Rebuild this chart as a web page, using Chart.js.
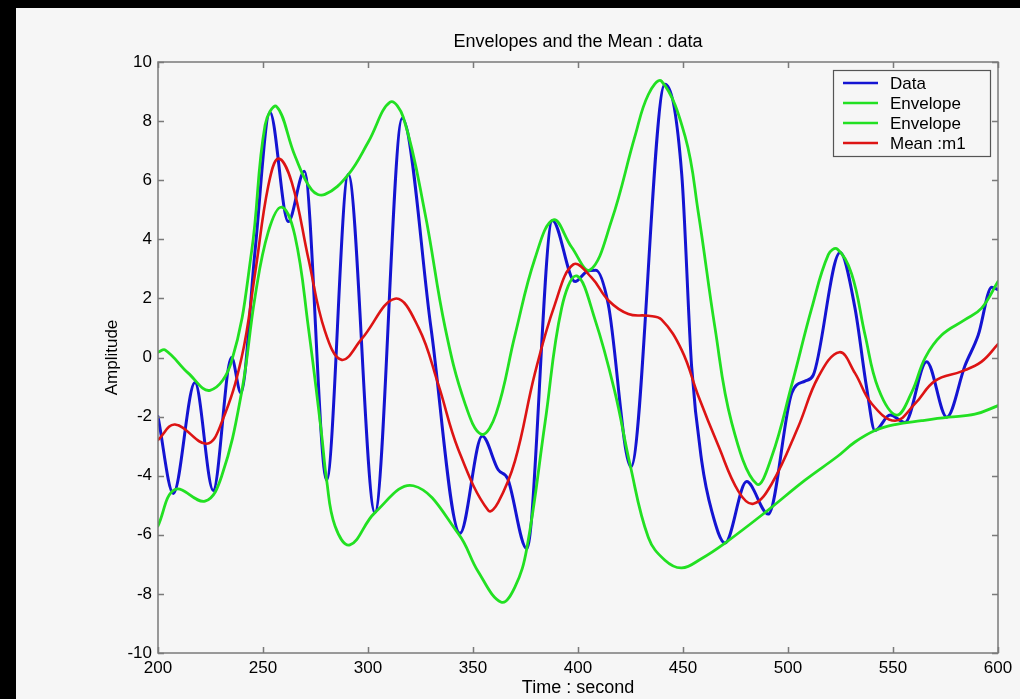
<!DOCTYPE html>
<html>
<head>
<meta charset="utf-8">
<title>Envelopes and the Mean : data</title>
<script src="https://cdn.jsdelivr.net/npm/chart.js@4.4.1/dist/chart.umd.min.js"></script>
<style>
  html, body { margin: 0; padding: 0; background: #000; }
  canvas { display: block; }
</style>
</head>
<body>
<canvas id="c" width="1020" height="699"></canvas>
<script>
// Signal samples (time in seconds, amplitude)
const dataT = [200, 207.3, 217.6, 226.3, 235, 239.5, 246.2, 253.3, 262, 269.7, 280.3, 290.6, 303.3, 316.3, 330, 343.8,
  354.4, 362, 366.5, 375.6, 387.8, 398.6, 404, 408.5, 414.4, 425.2, 441.4, 449.4, 454.1, 458.9, 463.7, 470,
  480.3, 490.6, 501.8, 508.1, 512, 524.8, 531.9, 537.5, 541.4, 548.6, 555.7, 566, 575.6, 584.3, 590.6, 597, 600];
const dataV = [-2.0, -4.6, -0.85, -4.5, 0.0, -1.2, 3.6, 8.3, 4.6, 6.3, -4.15, 6.2, -5.25, 8.1, 1.0, -5.95,
  -2.66, -3.8, -4.1, -6.47, 4.64, 2.57, 2.9, 2.95, 1.8, -3.7, 9.25, 6.2, -0.3, -3.5, -5.2, -6.28,
  -4.2, -5.3, -1.2, -0.8, -0.6, 3.55, 1.67, -1.05, -2.47, -1.95, -2.2, -0.14, -2.02, -0.27, 0.76, 2.38, 2.3];

// Upper envelope through the local maxima
const upperT = [200, 203.5, 214.4, 224.8, 235, 244.6, 251, 256.5, 265.2, 273.2, 279.5, 290.6, 300.2, 310.5, 316.8,
  327.1, 336.7, 346.2, 354.1, 361, 370, 379.5, 388.3, 397, 405.7, 416, 427.1, 433.5, 439.8, 451, 457.3, 465.2,
  473.2, 485.1, 492.2, 501.8, 511.3, 519.2, 523.5, 530.3, 536.7, 543, 551.7, 558.9, 565.3, 573.2, 584.3, 592.2, 600];
const upperV = [0.18, 0.25, -0.53, -1.11, -0.14, 3.6, 7.87, 8.49, 6.83, 5.67, 5.52, 6.19, 7.3, 8.64, 8.13,
  4.9, 1.02, -1.56, -2.6, -1.9, 0.76, 3.35, 4.66, 3.73, 2.96, 4.64, 7.48, 8.9, 9.35, 7.48, 4.9, 1.02,
  -2.21, -4.28, -3.37, -0.92, 1.67, 3.48, 3.67, 2.83, 0.76, -1.05, -1.95, -1.18, -0.01, 0.76, 1.28, 1.67, 2.57];

// Lower envelope through the local minima
const lowerT = [200, 208.1, 222.4, 230.3, 239.8, 246.2, 252.5, 258.9, 265.2, 271.6, 277.9, 280.3, 284.3, 291.4,
  303.3, 321.6, 343, 352.5, 363.5, 370, 375.6, 384.3, 392.2, 399.4, 408.1, 417.6, 424.8, 433.5, 441.4, 449.4,
  458.9, 470, 489, 508.1, 523.5, 531.9, 541.4, 551, 563.6, 576.3, 589, 600];
const lowerV = [-5.7, -4.47, -4.86, -4.02, -1.18, 2.05, 4.25, 5.09, 4.12, 1.02, -2.6, -4.15, -5.7, -6.34,
  -5.25, -4.34, -5.96, -7.25, -8.28, -7.76, -6.47, -2.21, 1.67, 2.76, 1.28, -1.18, -3.63, -6.09, -6.86, -7.12,
  -6.8, -6.28, -5.25, -4.15, -3.35, -2.86, -2.47, -2.27, -2.14, -2.02, -1.92, -1.63];

// Mean of the two envelopes (m1)
const meanT = [200, 208.1, 223.2, 230.3, 239.8, 246.2, 252.5, 257.3, 263.7, 271.6, 279.5, 287.5, 297, 312.9, 324,
  333.5, 343, 357.3, 362, 370, 379.5, 389, 397.8, 406.5, 414.5, 424, 433.5, 439.8, 449.4, 457.3, 466.8, 476.4,
  483.5, 492.2, 504.9, 514.4, 524.5, 531.9, 539.8, 551, 560.5, 570, 582.7, 592.2, 600];
const meanV = [-2.79, -2.27, -2.92, -2.2, -0.01, 2.83, 5.8, 6.73, 5.93, 3.35, 0.89, -0.08, 0.63, 1.99, 1.02,
  -0.92, -3.11, -5.18, -4.9, -3.5, -0.53, 1.8, 3.15, 2.7, 1.93, 1.47, 1.41, 1.28, 0.25, -1.3, -2.98, -4.53,
  -4.95, -4.28, -2.34, -0.66, 0.18, -0.53, -1.56, -2.14, -1.56, -0.79, -0.47, -0.14, 0.45];

// Axis ticks
const xTicks = [200, 250, 300, 350, 400, 450, 500, 550, 600];
const yTicks = [-10, -8, -6, -4, -2, 0, 2, 4, 6, 8, 10];

const FONT = "'Liberation Sans', Arial, Helvetica, sans-serif";
const pts = (t, v) => t.map((x, i) => ({ x, y: v[i] }));

// Box frame, inward tick marks and an in-plot legend
const framePlugin = {
  id: 'frame',
  beforeDraw(chart) {
    const ctx = chart.ctx;
    ctx.save();
    ctx.fillStyle = '#f6f6f6';
    ctx.fillRect(0, 0, chart.width, chart.height);
    ctx.fillStyle = '#000';
    ctx.fillRect(0, 0, chart.width, 8);
    ctx.fillRect(0, 0, 16, chart.height);
    ctx.restore();
  },
  afterDatasetsDraw(chart) {
    const { ctx, chartArea: a, scales: { x, y } } = chart;
    ctx.save();
    ctx.strokeStyle = '#7a7a7a';
    ctx.lineWidth = 1.5;
    ctx.strokeRect(a.left, a.top, a.right - a.left, a.bottom - a.top);
    const tl = 6;
    ctx.beginPath();
    xTicks.forEach(v => {
      const px = Math.round(x.getPixelForValue(v)) + 0.5;
      ctx.moveTo(px, a.bottom); ctx.lineTo(px, a.bottom - tl);
      ctx.moveTo(px, a.top); ctx.lineTo(px, a.top + tl);
    });
    yTicks.forEach(v => {
      const py = Math.round(y.getPixelForValue(v)) + 0.5;
      ctx.moveTo(a.left, py); ctx.lineTo(a.left + tl, py);
      ctx.moveTo(a.right, py); ctx.lineTo(a.right - tl, py);
    });
    ctx.stroke();

    // legend
    const w = 157, h = 86;
    const lx = a.right - 8 - w, ly = a.top + 8;
    ctx.fillStyle = '#f6f6f6';
    ctx.fillRect(lx, ly, w, h);
    ctx.strokeStyle = '#555';
    ctx.lineWidth = 1.2;
    ctx.strokeRect(lx + 0.5, ly + 0.5, w, h);
    ctx.font = '17px ' + FONT;
    ctx.textBaseline = 'middle';
    ctx.fillStyle = '#000';
    chart.data.datasets.forEach((ds, i) => {
      const ry = ly + 13 + i * 20;
      ctx.strokeStyle = ds.borderColor;
      ctx.lineWidth = 2.5;
      ctx.beginPath();
      ctx.moveTo(lx + 10, ry); ctx.lineTo(lx + 45, ry);
      ctx.stroke();
      ctx.fillText(ds.label, lx + 57, ry + 1);
    });
    ctx.restore();
  }
};

const sharpLine = { pointRadius: 0, fill: false, cubicInterpolationMode: 'monotone', borderJoinStyle: 'round', borderCapStyle: 'round' };
const smoothLine = { pointRadius: 0, fill: false, tension: 0.4, borderJoinStyle: 'round', borderCapStyle: 'round' };

new Chart(document.getElementById('c'), {
  type: 'line',
  data: {
    datasets: [
      Object.assign({ label: 'Data', data: pts(dataT, dataV), borderColor: '#1414d2', borderWidth: 3, order: 4 }, sharpLine),
      Object.assign({ label: 'Envelope', data: pts(upperT, upperV), borderColor: '#22e022', borderWidth: 2.8, order: 3 }, smoothLine),
      Object.assign({ label: 'Envelope', data: pts(lowerT, lowerV), borderColor: '#22e022', borderWidth: 2.8, order: 2 }, smoothLine),
      Object.assign({ label: 'Mean :m1', data: pts(meanT, meanV), borderColor: '#dd1414', borderWidth: 2.6, order: 1 }, smoothLine)
    ]
  },
  options: {
    responsive: false,
    animation: false,
    devicePixelRatio: 1,
    layout: { padding: { left: 0, right: 22, top: 0, bottom: 0 } },
    plugins: {
      legend: { display: false },
      tooltip: { enabled: false },
      title: {
        display: true,
        text: 'Envelopes and the Mean : data',
        color: '#000',
        fullSize: false,
        font: { family: FONT, size: 18, weight: 'normal' },
        padding: { top: 31, bottom: 9.4 }
      }
    },
    scales: {
      x: {
        type: 'linear',
        min: 200, max: 600,
        afterBuildTicks: s => { s.ticks = xTicks.map(v => ({ value: v })); },
        afterFit: s => { s.height = 46; },
        grid: { display: false, drawTicks: false },
        border: { display: false },
        ticks: { color: '#000', font: { family: FONT, size: 17 }, padding: 5, maxRotation: 0, autoSkip: false },
        title: { display: true, text: 'Time : second', color: '#000', font: { family: FONT, size: 18 }, padding: { top: 0, bottom: 0 } }
      },
      y: {
        min: -10, max: 10,
        afterBuildTicks: s => { s.ticks = yTicks.map(v => ({ value: v })); },
        afterFit: s => { s.width = 158; },
        grid: { display: false, drawTicks: false },
        border: { display: false },
        ticks: { color: '#000', font: { family: FONT, size: 17 }, padding: 6 },
        title: { display: true, text: 'Amplitude', color: '#000', font: { family: FONT, size: 17 }, padding: { top: 102, bottom: 0 } }
      }
    }
  },
  plugins: [framePlugin]
});
</script>
</body>
</html>
